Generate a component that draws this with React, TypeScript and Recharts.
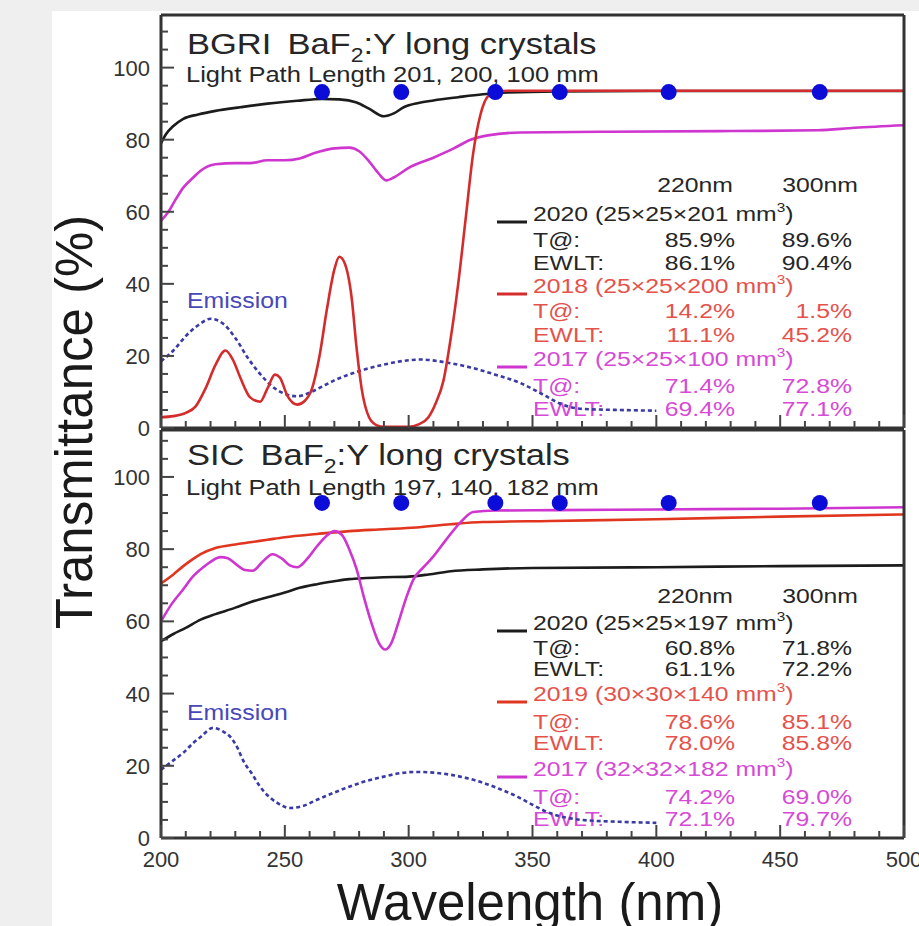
import React from 'react';
import { ComposedChart, Line, Scatter, XAxis, YAxis, Customized } from 'recharts';

const W = 919;
const H = 926;
const PLOT_L = 161;
const PLOT_R = 904;
const TOP_T = 15;
const TOP_B = 428;
const BOT_T = 430;
const BOT_B = 838;
const FONT = "'Liberation Sans', Arial, Helvetica, sans-serif";

// ---------- data: BGRI (top panel) ----------
const bgri2020Wl = [200, 202, 205, 209, 215, 222, 232, 243, 255, 265, 272, 279, 284, 290, 294, 298, 304, 310, 320, 330, 340, 360, 400, 450, 500];
const bgri2020T = [79.0, 81.5, 83.8, 85.8, 87.0, 88.0, 89.0, 90.0, 90.8, 91.3, 91.2, 90.3, 88.6, 86.5, 87.3, 89.0, 90.2, 90.9, 91.8, 92.6, 93.1, 93.4, 93.5, 93.5, 93.5];

const bgri2018Wl = [200, 205, 210, 214, 218, 222, 226, 229, 232, 236, 240, 243, 246, 248, 251, 255, 258, 261, 264, 267, 270, 272, 274, 277, 279, 281, 284, 287, 290, 300, 304, 308, 311, 314, 317, 320, 323, 326, 329, 332, 336, 340, 400, 500];
const bgri2018T = [3.0, 3.3, 4.2, 6.0, 11.0, 17.5, 21.5, 19.0, 14.0, 8.5, 7.3, 11.0, 14.8, 14.0, 9.0, 6.5, 7.5, 11.0, 20.0, 33.0, 44.0, 47.5, 46.0, 36.0, 22.0, 11.0, 3.0, 0.8, 0.3, 0.3, 1.0, 3.0, 7.0, 13.0, 25.0, 40.0, 58.0, 76.0, 87.0, 92.0, 93.4, 93.6, 93.6, 93.6];

const bgri2017Wl = [200, 203, 206, 209, 213, 216, 222, 230, 236, 243, 250, 256, 262, 270, 276, 280, 284, 288, 291, 294, 300, 310, 318, 325, 332, 345, 380, 430, 465, 480, 500];
const bgri2017T = [57.5, 60.0, 63.5, 66.7, 69.5, 71.4, 73.2, 73.5, 73.5, 74.3, 74.3, 74.8, 76.3, 77.6, 77.8, 76.8, 74.0, 70.5, 68.7, 69.5, 72.2, 75.0, 77.5, 80.0, 81.2, 82.0, 82.2, 82.4, 82.6, 83.3, 84.0];

const bgriEmWl = [200, 205, 210, 215, 220, 225, 230, 235, 240, 245, 250, 255, 260, 265, 270, 280, 290, 300, 305, 315, 325, 335, 345, 355, 362, 370, 385, 400];
const bgriEmI = [18.5, 21.5, 25.5, 28.5, 30.3, 29.0, 25.0, 19.5, 15.0, 11.5, 9.5, 8.8, 9.8, 11.5, 13.2, 15.8, 17.6, 18.8, 19.0, 18.2, 16.8, 14.8, 12.5, 9.0, 6.5, 5.3, 5.0, 4.8];

// ---------- data: SIC (bottom panel) ----------
const sic2020Wl = [200, 205, 210, 216, 222, 230, 236, 243, 250, 256, 263, 270, 276, 283, 290, 300, 308, 317, 330, 350, 400, 450, 500];
const sic2020T = [54.5, 56.5, 58.2, 60.5, 62.0, 63.8, 65.3, 66.7, 68.0, 69.3, 70.3, 71.1, 71.7, 72.0, 72.2, 72.4, 73.0, 73.9, 74.4, 74.8, 75.0, 75.3, 75.5];

const sic2019Wl = [200, 205, 209, 213, 216, 222, 230, 236, 243, 250, 263, 276, 290, 303, 317, 330, 357, 400, 450, 500];
const sic2019T = [70.5, 73.0, 75.3, 77.3, 78.6, 80.3, 81.3, 81.9, 82.6, 83.3, 84.2, 85.0, 85.5, 86.0, 86.9, 87.5, 87.8, 88.3, 89.0, 89.6];

const sic2017Wl = [200, 204, 209, 213, 216, 220, 224, 227, 230, 234, 237, 241, 245, 249, 252, 255, 259, 263, 267, 270, 273, 276, 279, 282, 285, 288, 290.5, 293, 296, 299, 302, 306, 310, 315, 321, 326, 335, 360, 400, 450, 500];
const sic2017T = [60.0, 64.5, 68.9, 72.5, 74.4, 76.5, 77.8, 77.5, 76.0, 74.2, 74.0, 76.5, 78.6, 77.3, 75.5, 75.0, 77.3, 80.8, 83.8, 85.0, 84.0, 80.0, 74.4, 66.5, 59.5, 54.0, 52.2, 54.0, 60.0, 66.5, 71.7, 75.0, 78.0, 82.5, 87.5, 90.3, 90.7, 90.8, 91.0, 91.2, 91.6];

const sicEmWl = [200, 205, 209, 213, 216, 221, 225, 228, 231, 233, 237, 240, 244, 247, 252, 257, 263, 270, 276, 283, 290, 297, 303, 310, 317, 324, 330, 337, 344, 350, 357, 364, 370, 385, 400];
const sicEmI = [18.9, 21.5, 23.6, 26.3, 28.0, 30.5, 29.5, 28.0, 24.8, 21.7, 17.5, 14.2, 11.2, 9.7, 8.3, 8.8, 10.6, 12.6, 14.2, 15.8, 17.0, 18.0, 18.3, 18.1, 17.5, 16.5, 15.3, 13.5, 11.4, 9.2, 6.9, 5.6, 5.0, 4.5, 4.2];

// emission-weighted wavelength points (blue dots)
const dotWl = [265, 297, 335, 361, 405, 466];
const bgriDotT = [93.2, 93.2, 93.2, 93.2, 93.2, 93.2];
const sicDotT = [92.8, 92.8, 92.8, 92.8, 92.8, 92.8];

// ticks
const xTicks = [200, 210, 220, 230, 240, 250, 260, 270, 280, 290, 300, 310, 320, 330, 340, 350, 360, 370, 380, 390, 400, 410, 420, 430, 440, 450, 460, 470, 480, 490, 500];
const yTicks = [0, 5, 10, 15, 20, 25, 30, 35, 40, 45, 50, 55, 60, 65, 70, 75, 80, 85, 90, 95, 100, 105, 110];
const yLabels = [0, 20, 40, 60, 80, 100];

// legend text
const colHeaders = ['220nm', '300nm'];
const bgriNames = ['2020 (25×25×201 mm', '2018 (25×25×200 mm', '2017 (25×25×100 mm'];
const bgriT220 = ['85.9%', '14.2%', '71.4%'];
const bgriT300 = ['89.6%', '1.5%', '72.8%'];
const bgriE220 = ['86.1%', '11.1%', '69.4%'];
const bgriE300 = ['90.4%', '45.2%', '77.1%'];
const sicNames = ['2020 (25×25×197 mm', '2019 (30×30×140 mm', '2017 (32×32×182 mm'];
const sicT220 = ['60.8%', '78.6%', '74.2%'];
const sicT300 = ['71.8%', '85.1%', '69.0%'];
const sicE220 = ['61.1%', '78.0%', '72.1%'];
const sicE300 = ['72.2%', '85.8%', '79.7%'];

const zip = (xs: number[], ys: number[]) => xs.map((x, i) => ({ x, y: ys[i] }));

const C_BLACK = '#1c1c1c';
const C_RED = '#d42c2c';
const C_RED2 = '#e0361f';
const C_MAG = '#cf35cf';
const C_EM = '#3a3aa6';
const T_BLACK = '#262626';
const T_RED = '#e5524c';
const T_MAG = '#d64ad6';
const T_EM = '#4848b8';

const S = ({ x, y, sx = 1, size, fill = T_BLACK, anchor = 'start', children }: any) => (
  <text transform={`translate(${x},${y}) scale(${sx},1)`} fontSize={size} fill={fill} textAnchor={anchor} fontFamily={FONT}>
    {children}
  </text>
);

const makeYTick = (side: 'left' | 'right', labels: boolean) => (props: any) => {
  const { y, payload } = props;
  const v = payload.value;
  const major = v % 20 === 0;
  const len = major ? 13 : 7;
  const x0 = side === 'left' ? PLOT_L : PLOT_R;
  const x1 = side === 'left' ? x0 + len : x0 - len;
  return (
    <g>
      <line x1={x0} y1={y} x2={x1} y2={y} stroke="#444" strokeWidth={2} />
      {labels && yLabels.includes(v) && (
        <text x={150} y={y + 8} textAnchor="end" fontSize={22} fill="#333" fontFamily={FONT}>{v}</text>
      )}
    </g>
  );
};

const makeXTick = (yEdge: number, dir: 1 | -1, labels: boolean) => (props: any) => {
  const { x, payload } = props;
  const v = payload.value;
  const major = v % 50 === 0;
  const len = major ? 13 : 7;
  return (
    <g>
      <line x1={x} y1={yEdge} x2={x} y2={yEdge + dir * len} stroke="#444" strokeWidth={2} />
      {labels && major && (
        <text x={x} y={867} textAnchor="middle" fontSize={22} fill="#333" fontFamily={FONT}>{v}</text>
      )}
    </g>
  );
};

const Legend = ({ rows, header, names, t220, t300, e220, e300, lineColors, textColors }: any) => (
  <g>
    <S x={733} y={header + 7.5} size={21} sx={1.18} anchor="end">{colHeaders[0]}</S>
    <S x={858} y={header + 7.5} size={21} sx={1.18} anchor="end">{colHeaders[1]}</S>
    {names.map((nm: string, g: number) => {
      const r0 = rows[g * 3];
      const r1 = rows[g * 3 + 1];
      const r2 = rows[g * 3 + 2];
      const fc = textColors[g];
      return (
        <g key={g}>
          <line x1={497} y1={r0 + 9} x2={527} y2={r0 + 9} stroke={lineColors[g]} strokeWidth={3} />
          <S x={533} y={r0 + 7.5} size={21} sx={1.18} fill={fc}>
            {nm}
            <tspan dy={-9} fontSize={13}>3</tspan>
            <tspan dy={9}>)</tspan>
          </S>
          <S x={533} y={r1 + 7.5} size={21} sx={1.18} fill={fc}>T@:</S>
          <S x={735} y={r1 + 7.5} size={21} sx={1.18} fill={fc} anchor="end">{t220[g]}</S>
          <S x={852} y={r1 + 7.5} size={21} sx={1.18} fill={fc} anchor="end">{t300[g]}</S>
          <S x={533} y={r2 + 7.5} size={21} sx={1.18} fill={fc}>EWLT:</S>
          <S x={735} y={r2 + 7.5} size={21} sx={1.18} fill={fc} anchor="end">{e220[g]}</S>
          <S x={852} y={r2 + 7.5} size={21} sx={1.18} fill={fc} anchor="end">{e300[g]}</S>
        </g>
      );
    })}
  </g>
);

const TopOverlay = () => (
  <g>
    <S x={187} y={54} size={30} sx={1.15}>
      BGRI<tspan dx={14}>BaF</tspan>
      <tspan dy={8} fontSize={20}>2</tspan>
      <tspan dy={-8}>:Y long crystals</tspan>
    </S>
    <S x={186} y={82} size={22} sx={1.16}>Light Path Length 201, 200, 100 mm</S>
    <S x={187} y={308} size={22} sx={1.13} fill={T_EM}>Emission</S>
    <Legend
      rows={[213, 239, 262, 285, 310, 334, 358, 385, 408]}
      header={184}
      names={bgriNames}
      t220={bgriT220}
      t300={bgriT300}
      e220={bgriE220}
      e300={bgriE300}
      lineColors={[C_BLACK, C_RED, C_MAG]}
      textColors={[T_BLACK, T_RED, T_MAG]}
    />
  </g>
);

const BottomOverlay = () => (
  <g>
    <S x={187} y={465} size={30} sx={1.15}>
      SIC<tspan dx={14}>BaF</tspan>
      <tspan dy={8} fontSize={20}>2</tspan>
      <tspan dy={-8}>:Y long crystals</tspan>
    </S>
    <S x={186} y={495} size={22} sx={1.16}>Light Path Length 197, 140, 182 mm</S>
    <S x={187} y={720} size={22} sx={1.13} fill={T_EM}>Emission</S>
    <Legend
      rows={[622, 647, 668, 693, 721, 742, 768, 796, 818]}
      header={595}
      names={sicNames}
      t220={sicT220}
      t300={sicT300}
      e220={sicE220}
      e300={sicE300}
      lineColors={[C_BLACK, C_RED2, C_MAG]}
      textColors={[T_BLACK, T_RED, T_MAG]}
    />
    <text transform="translate(92,422) rotate(-90)" textAnchor="middle" fontSize={51} fill="#1a1a1a" fontFamily={FONT}>
      Transmittance (%)
    </text>
    <text x={530} y={920} textAnchor="middle" fontSize={51} fill="#1a1a1a" fontFamily={FONT}>
      Wavelength (nm)
    </text>
  </g>
);

const Dot = (p: any) => <circle cx={p.cx} cy={p.cy} r={8} fill="#0c0cd8" />;

function Panel({ top, bottom, yMax, series, dots, xLabels, overlay }: any) {
  const margin = { top: top - 2, bottom: H - bottom - 2, left: PLOT_L - 2, right: W - PLOT_R - 2 };
  const axisLine = { stroke: '#333', strokeWidth: 3 };
  return (
    <div style={{ position: 'absolute', left: 0, top: 0 }}>
      <ComposedChart width={W} height={H} margin={margin}>
        <XAxis dataKey="x" type="number" domain={[200, 500]} ticks={xTicks} interval={0} height={2}
          axisLine={axisLine} tickLine={false} tick={makeXTick(bottom, -1, xLabels)} />
        <XAxis xAxisId="top" orientation="top" dataKey="x" type="number" domain={[200, 500]} ticks={xTicks} interval={0} height={2}
          axisLine={axisLine} tickLine={false} tick={makeXTick(top, 1, false)} />
        <YAxis dataKey="y" type="number" domain={[0, yMax]} ticks={yTicks} interval={0} width={2}
          axisLine={axisLine} tickLine={false} tick={makeYTick('left', true)} />
        <YAxis yAxisId="right" orientation="right" dataKey="y" type="number" domain={[0, yMax]} ticks={yTicks} interval={0} width={2}
          axisLine={axisLine} tickLine={false} tick={makeYTick('right', false)} />
        {series.map((s: any, i: number) => (
          <Line key={i} data={s.data} dataKey="y" type="monotone" stroke={s.color} strokeWidth={2.6}
            strokeDasharray={s.dash} dot={false} activeDot={false} isAnimationActive={false} />
        ))}
        <Scatter data={dots} dataKey="y" shape={Dot} isAnimationActive={false} />
        <Customized component={overlay} />
      </ComposedChart>
    </div>
  );
}

export default function App() {
  const topSeries = [
    { data: zip(bgriEmWl, bgriEmI), color: C_EM, dash: '4 3' },
    { data: zip(bgri2017Wl, bgri2017T), color: C_MAG },
    { data: zip(bgri2020Wl, bgri2020T), color: C_BLACK },
    { data: zip(bgri2018Wl, bgri2018T), color: C_RED },
  ];
  const botSeries = [
    { data: zip(sicEmWl, sicEmI), color: C_EM, dash: '4 3' },
    { data: zip(sic2020Wl, sic2020T), color: C_BLACK },
    { data: zip(sic2019Wl, sic2019T), color: C_RED2 },
    { data: zip(sic2017Wl, sic2017T), color: C_MAG },
  ];
  return (
    <div style={{ position: 'absolute', left: 0, top: 0, width: W, height: H, background: '#efefef', overflow: 'hidden' }}>
      <div style={{ position: 'absolute', left: 52, top: 11, width: W - 52, height: H - 11, background: '#ffffff' }} />
      <Panel top={TOP_T} bottom={TOP_B} yMax={114.6} series={topSeries} dots={zip(dotWl, bgriDotT)} xLabels={false} overlay={TopOverlay} />
      <Panel top={BOT_T} bottom={BOT_B} yMax={113} series={botSeries} dots={zip(dotWl, sicDotT)} xLabels={true} overlay={BottomOverlay} />
    </div>
  );
}
